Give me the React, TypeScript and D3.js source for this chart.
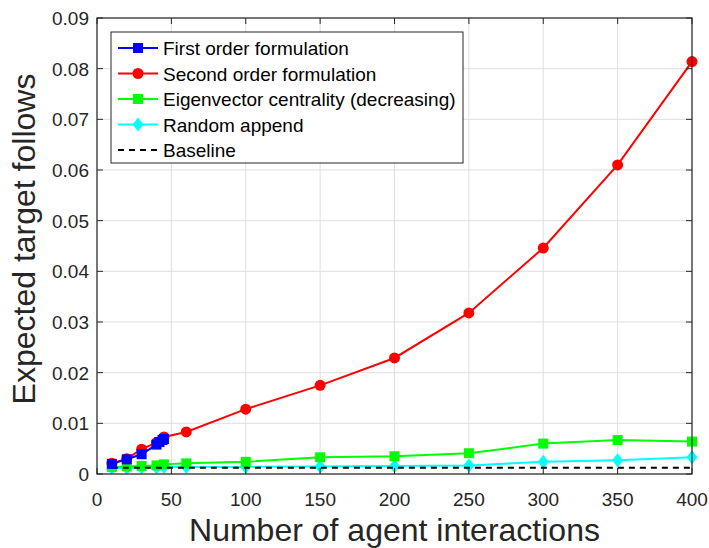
import React from "react";
import * as d3 from "d3";

const xFirst = [10, 20, 30, 40, 42, 44, 45];
const yFirst = [0.002, 0.0029, 0.0039, 0.0058, 0.0063, 0.0067, 0.0069];

const xOther = [10, 20, 30, 40, 45, 60, 100, 150, 200, 250, 300, 350, 400];
const ySecond = [0.0021, 0.003, 0.0049, 0.0062, 0.0073, 0.0083, 0.0128, 0.0175, 0.0229, 0.0318, 0.0446, 0.061, 0.0814];
const yEigen = [0.0014, 0.0015, 0.0016, 0.0017, 0.0019, 0.0021, 0.0024, 0.0033, 0.0035, 0.0041, 0.006, 0.0067, 0.0064];
const yRandom = [0.0012, 0.0012, 0.0013, 0.0013, 0.0014, 0.0014, 0.0014, 0.0015, 0.0016, 0.0017, 0.0024, 0.0027, 0.0033];

const xBaseline = [10, 400];
const yBaseline = [0.00125, 0.00125];

const xTicks = [0, 50, 100, 150, 200, 250, 300, 350, 400];
const yTicks = [0, 0.01, 0.02, 0.03, 0.04, 0.05, 0.06, 0.07, 0.08, 0.09];

const legendLabels = [
  "First order formulation",
  "Second order formulation",
  "Eigenvector centrality (decreasing)",
  "Random append",
  "Baseline",
];

const W = 709;
const H = 548;
const L = 97, R = 692, T = 18, B = 474;
const FONT = "'Liberation Sans', Arial, Helvetica, sans-serif";
const AX = "#262626";

type Marker = "square" | "circle" | "diamond" | "none";

function MarkerShape({ kind, x, y, color }: { kind: Marker; x: number; y: number; color: string }) {
  if (kind === "square") return <rect x={x - 5} y={y - 5} width={10} height={10} fill={color} />;
  if (kind === "circle") return <circle cx={x} cy={y} r={5.5} fill={color} />;
  if (kind === "diamond")
    return <path d={`M${x},${y - 7}L${x + 5.5},${y}L${x},${y + 7}L${x - 5.5},${y}Z`} fill={color} />;
  return null;
}

export default function App() {
  const xs = d3.scaleLinear().domain([0, 400]).range([L, R]);
  const ys = d3.scaleLinear().domain([0, 0.09]).range([B, T]);
  const line = d3
    .line<[number, number]>()
    .x((d) => xs(d[0]))
    .y((d) => ys(d[1]));

  const series: { xv: number[]; yv: number[]; color: string; marker: Marker; dash?: string; label: string }[] = [
    { xv: xOther, yv: yRandom, color: "#00ffff", marker: "diamond", label: legendLabels[3] },
    { xv: xOther, yv: yEigen, color: "#00ff00", marker: "square", label: legendLabels[2] },
    { xv: xBaseline, yv: yBaseline, color: "#000000", marker: "none", dash: "6,5", label: legendLabels[4] },
    { xv: xOther, yv: ySecond, color: "#ff0000", marker: "circle", label: legendLabels[1] },
    { xv: xFirst, yv: yFirst, color: "#0000ff", marker: "square", label: legendLabels[0] },
  ];

  const legendOrder = [4, 3, 1, 0, 2];
  const legX = 111, legY = 32, legW = 352, legH = 131;

  return (
    <svg width={W} height={H} style={{ display: "block", position: "absolute", left: 0, top: 0 }} fontFamily={FONT}>
      <rect x={0} y={0} width={W} height={H} fill="#ffffff" />
      {/* grid */}
      {xTicks.map((t) => (
        <line key={"gx" + t} x1={xs(t)} x2={xs(t)} y1={T} y2={B} stroke="#dfdfdf" strokeWidth={1} />
      ))}
      {yTicks.map((t) => (
        <line key={"gy" + t} x1={L} x2={R} y1={ys(t)} y2={ys(t)} stroke="#dfdfdf" strokeWidth={1} />
      ))}
      {/* series */}
      {series.map((s, i) => {
        const pts = s.xv.map((x, j) => [x, s.yv[j]] as [number, number]);
        return (
          <g key={"s" + i}>
            <path d={line(pts) || ""} fill="none" stroke={s.color} strokeWidth={2} strokeDasharray={s.dash} />
            {pts.map((p, j) => (
              <MarkerShape key={j} kind={s.marker} x={xs(p[0])} y={ys(p[1])} color={s.color} />
            ))}
          </g>
        );
      })}
      {/* axes box */}
      <rect x={L} y={T} width={R - L} height={B - T} fill="none" stroke={AX} strokeWidth={1.2} />
      {xTicks.map((t) => (
        <g key={"tx" + t}>
          <line x1={xs(t)} x2={xs(t)} y1={B} y2={B - 6} stroke={AX} />
          <line x1={xs(t)} x2={xs(t)} y1={T} y2={T + 6} stroke={AX} />
          <text x={xs(t)} y={B + 32} textAnchor="middle" fontSize={19} fill={AX}>
            {t}
          </text>
        </g>
      ))}
      {yTicks.map((t) => (
        <g key={"ty" + t}>
          <line x1={L} x2={L + 6} y1={ys(t)} y2={ys(t)} stroke={AX} />
          <line x1={R} x2={R - 6} y1={ys(t)} y2={ys(t)} stroke={AX} />
          <text x={L - 8} y={ys(t) + 7} textAnchor="end" fontSize={19} fill={AX}>
            {t === 0 ? "0" : t.toFixed(2)}
          </text>
        </g>
      ))}
      <text x={(L + R) / 2} y={541} textAnchor="middle" fontSize={32} fill={AX}>
        Number of agent interactions
      </text>
      <text transform={`translate(${35},${239}) rotate(-90)`} textAnchor="middle" fontSize={32} fill={AX}>
        Expected target follows
      </text>
      {/* legend */}
      <rect x={legX} y={legY} width={legW} height={legH} fill="#ffffff" stroke={AX} strokeWidth={1} />
      {legendOrder.map((si, k) => {
        const s = series[si];
        const cy = 48 + k * 25.5;
        return (
          <g key={"l" + k}>
            <line x1={118} x2={158} y1={cy} y2={cy} stroke={s.color} strokeWidth={2} strokeDasharray={s.dash} />
            <MarkerShape kind={s.marker} x={138} y={cy} color={s.color} />
            <text x={163} y={cy + 7} fontSize={19} fill="#000">
              {s.label}
            </text>
          </g>
        );
      })}
    </svg>
  );
}
